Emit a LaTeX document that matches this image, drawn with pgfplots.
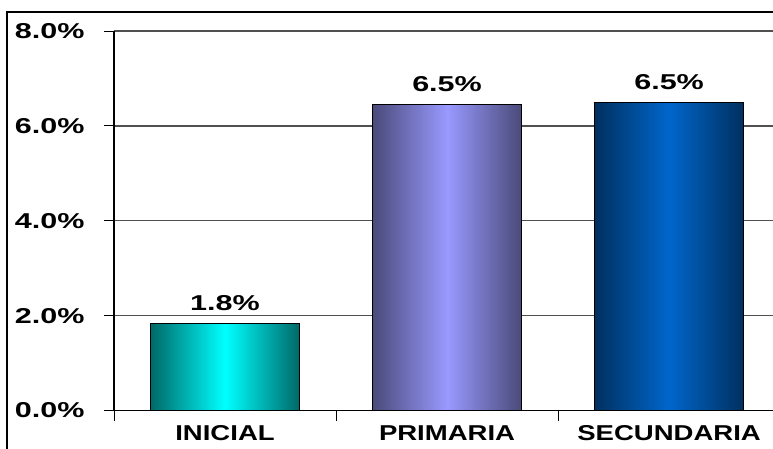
\documentclass[border=0pt]{standalone}
\usepackage{fontspec}
\setmainfont{Liberation Sans}[FakeStretch=1.28]
\newfontfamily\numfont{Liberation Sans}[FakeStretch=1.42]
\usepackage{pgfplots}
\pgfplotsset{compat=1.18}
\definecolor{gridgray}{HTML}{505050}
\definecolor{tealdark}{HTML}{006868}
\definecolor{cyanl}{HTML}{00FFFF}
\definecolor{purpdark}{HTML}{4A4A7A}
\definecolor{purpl}{HTML}{9999FF}
\definecolor{bluedark}{HTML}{00305F}
\definecolor{bluel}{HTML}{0066CC}
\begin{document}
\begin{tikzpicture}[x=1pt,y=1pt]
\useasboundingbox (0,0) rectangle (773,448);
\clip (0,0) rectangle (773,448);
\draw[line width=2pt] (7,-20) -- (7,436) -- (800,436);
\begin{axis}[
  at={(114pt,37.5pt)}, anchor=south west,
  scale only axis, width=659pt, height=379.5pt,
  xmin=-0.5, xmax=2.468, ymin=0, ymax=8,
  axis lines=left, axis line style={-, line width=1.3pt, black},
  /pgf/number format/assume math mode=true,
  ytick={0,2,4,6,8},
  yticklabel={\numfont\pgfmathprintnumber[fixed,fixed zerofill,precision=1]{\tick}\%},
  yticklabel style={xshift=-16pt},
  ymajorgrids, grid style={gridgray, line width=1.3pt},
  xtick={-0.5,0.5,1.5},
  xticklabels={INICIAL,PRIMARIA,SECUNDARIA},
  xticklabel style={xshift=111pt, yshift=-5pt, inner sep=0pt},
  tick align=outside, major tick length=10pt,
  tick style={black, line width=1pt},
  tick label style={font=\fontsize{21.5}{25}\selectfont\bfseries},
  nodes near coords={\numfont\pgfmathprintnumber[fixed,fixed zerofill,precision=1]{\pgfplotspointmeta}\%},
  nodes near coords style={font=\fontsize{21.5}{25}\selectfont\bfseries, anchor=south, yshift=9pt},
  clip=false,
]
\addplot[ybar, bar width=149pt, bar shift=0pt, draw=black, line width=1pt,
  left color=tealdark, right color=tealdark, middle color=cyanl] coordinates {(0,1.84)};
\addplot[ybar, bar width=149pt, bar shift=0pt, draw=black, line width=1pt,
  left color=purpdark, right color=purpdark, middle color=purpl] coordinates {(1,6.46)};
\addplot[ybar, bar width=149pt, bar shift=0pt, draw=black, line width=1pt,
  left color=bluedark, right color=bluedark, middle color=bluel] coordinates {(2,6.49)};
\end{axis}
\end{tikzpicture}
\end{document}
